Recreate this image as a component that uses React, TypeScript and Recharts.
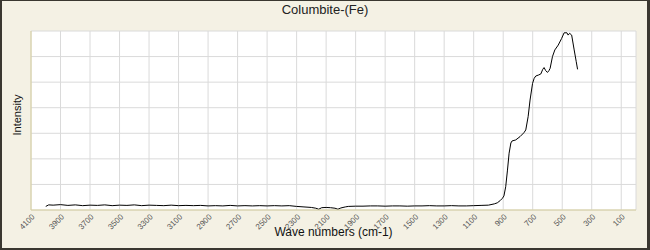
import React from "react"
import { LineChart, Line, XAxis, YAxis, CartesianGrid } from "recharts"

// wave numbers (cm-1) and intensity
const waveNumbers = [
  4000, 3980, 3950, 3900, 3850, 3800, 3750, 3700, 3650, 3600, 3550, 3500, 3450,
  3400, 3350, 3300, 3250, 3200, 3150, 3100, 3050, 3000, 2950, 2900, 2850, 2800,
  2750, 2700, 2650, 2600, 2550, 2500, 2450, 2400, 2350, 2300, 2250, 2200, 2170,
  2150, 2130, 2100, 2070, 2040, 2020, 2000, 1970, 1950, 1900, 1850, 1800, 1750,
  1700, 1650, 1600, 1550, 1500, 1450, 1400, 1350, 1300, 1250, 1200, 1150, 1100,
  1050, 1000, 960, 940, 920, 905, 895, 883, 871, 860, 848, 840, 815, 786, 760,
  747, 731, 718, 701, 690, 679, 660, 645, 632, 623, 612, 600, 590, 582, 566,
  550, 527, 504, 487, 468, 460, 450, 436, 419, 405, 396,
]

const intensity = [
  0.14, 0.2, 0.19, 0.21, 0.18, 0.2, 0.17, 0.19, 0.18, 0.2, 0.17, 0.19, 0.18,
  0.2, 0.17, 0.19, 0.18, 0.17, 0.19, 0.17, 0.18, 0.17, 0.18, 0.16, 0.17, 0.16,
  0.18, 0.16, 0.17, 0.16, 0.17, 0.16, 0.17, 0.16, 0.17, 0.14, 0.12, 0.1, 0.07,
  0.03, 0.09, 0.1, 0.09, 0.07, 0.03, 0.08, 0.12, 0.14, 0.15, 0.15, 0.16, 0.16,
  0.15, 0.16, 0.16, 0.15, 0.16, 0.16, 0.17, 0.16, 0.16, 0.17, 0.16, 0.16, 0.17,
  0.18, 0.19, 0.24, 0.28, 0.37, 0.46, 0.55, 0.91, 1.56, 2.22, 2.62, 2.7, 2.74,
  2.87, 3.02, 3.13, 3.65, 4.3, 4.95, 5.15, 5.24, 5.28, 5.32, 5.5, 5.57, 5.45,
  5.38, 5.45, 5.54, 6.0, 6.26, 6.45, 6.71, 6.93, 6.93, 6.84, 6.91, 6.84, 6.26,
  5.8, 5.5,
]

const labelTicks = [
  4100, 3900, 3700, 3500, 3300, 3100, 2900, 2700, 2500, 2300, 2100, 1900, 1700,
  1500, 1300, 1100, 900, 700, 500, 300, 100,
]
const minorXTicks = Array.from({ length: 42 }, (_, i) => i * 100)
const majorYTicks = [0, 1, 2, 3, 4, 5, 6, 7]
const minorYTicks = Array.from({ length: 36 }, (_, i) => +(i * 0.2).toFixed(1))

const data = waveNumbers.map((w, i) => ({ wave: w, value: intensity[i] }))

const AXIS = "#d8d09c"
const GRID = "#dadada"
const FONT = "'Liberation Sans', Arial, sans-serif"

const renderXLabel = (p: any) => (
  <g transform={`translate(${p.x},${p.y})`}>
    <text
      x={0}
      y={0}
      dx={2}
      dy={4}
      transform="rotate(-45)"
      textAnchor="end"
      fontSize={8}
      fontFamily={FONT}
      fill="#555"
    >
      {p.payload.value}
    </text>
  </g>
)

export default function App() {
  return (
    <div
      style={{
        position: "fixed",
        left: 0,
        top: 0,
        width: 650,
        height: 250,
        background: "#f4f1e4",
        fontFamily: FONT,
      }}
    >
      <div
        style={{
          position: "absolute",
          top: 2,
          width: 650,
          textAlign: "center",
          fontSize: 13,
          color: "#222",
        }}
      >
        Columbite-(Fe)
      </div>
      <LineChart
        width={650}
        height={250}
        data={data}
        margin={{ top: 31, right: 14, left: 29, bottom: 0 }}
      >
        <CartesianGrid
          xAxisId="major"
          yAxisId="major"
          stroke={GRID}
          fill="#ffffff"
          strokeWidth={1}
        />
        <XAxis
          xAxisId="minor"
          dataKey="wave"
          type="number"
          domain={[0, 4100]}
          reversed
          ticks={minorXTicks}
          tick={false}
          tickSize={4}
          tickLine={{ stroke: AXIS }}
          axisLine={false}
          height={0}
        />
        <XAxis
          xAxisId="major"
          dataKey="wave"
          type="number"
          domain={[0, 4100]}
          reversed
          ticks={labelTicks}
          interval={0}
          tick={renderXLabel}
          tickSize={4}
          tickMargin={2}
          tickLine={false}
          axisLine={{ stroke: AXIS }}
          height={40}
          label={{
            value: "Wave numbers (cm-1)",
            position: "insideBottom",
            offset: 14,
            fontSize: 12,
            fontFamily: FONT,
            fill: "#111",
          }}
        />
        <YAxis
          yAxisId="major"
          type="number"
          domain={[0, 7]}
          ticks={majorYTicks}
          interval={0}
          tick={() => <g />}
          tickLine={false}
          axisLine={{ stroke: AXIS }}
          width={1}
          label={() => (
            <text
              x={17}
              y={115}
              transform="rotate(-90, 17, 115)"
              textAnchor="middle"
              dominantBaseline="central"
              fontSize={11}
              fontFamily={FONT}
              fill="#111"
            >
              Intensity
            </text>
          )}
        />
        <YAxis
          yAxisId="minor"
          type="number"
          domain={[0, 7]}
          ticks={minorYTicks}
          interval={0}
          tick={(p: any) => (
            <line x1={31} x2={35} y1={p.y} y2={p.y} stroke={AXIS} />
          )}
          tickSize={0}
          tickMargin={0}
          tickLine={false}
          axisLine={false}
          width={1}
        />
        <Line
          xAxisId="major"
          yAxisId="major"
          dataKey="value"
          type="linear"
          stroke="#000"
          strokeWidth={1}
          dot={false}
          isAnimationActive={false}
        />
      </LineChart>
      <div
        style={{
          position: "absolute",
          inset: 0,
          borderStyle: "solid",
          borderColor: "#3a3730",
          borderWidth: "1px 3px 2px 2px",
          pointerEvents: "none",
        }}
      />
    </div>
  )
}
